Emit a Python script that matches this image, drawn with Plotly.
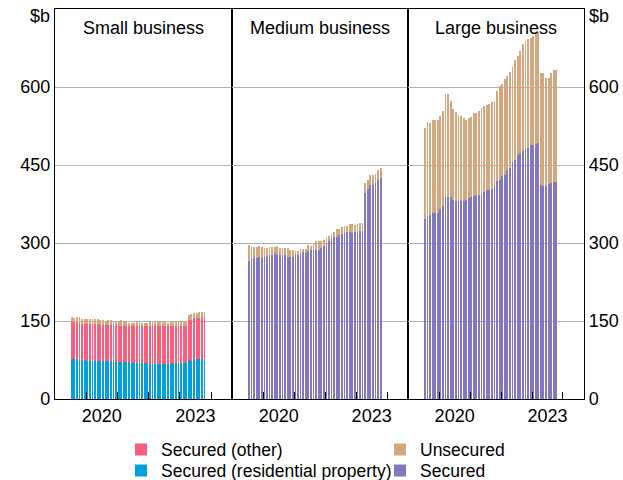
import pandas as pd
import plotly.graph_objects as go

# ---- data ($b), monthly Jul 2019 - Oct 2023 ----
months = pd.date_range("2019-07-01", periods=52, freq="MS") + pd.Timedelta(days=14)

small_res = [77,77,77,75,75,75,74,74,74,74,74,74,73,73,73,73,73,72,72,72,72,71,71,70,69,69,
             69,69,69,68,68,68,68,68,68,68,68,68,68,69,69,69,69,69,69,75,74,76,76,76,76,76]
small_other = [72,71,72,71,70,70,71,70,70,70,70,69,70,70,69,69,69,69,69,69,69,69,69,70,71,71,
               71,71,71,72,72,72,72,72,72,72,72,72,72,71,71,72,72,72,72,76,78,79,79,79,80,82]
small_unsec = [9,8,9,11,9,9,9,9,9,9,9,9,9,7,10,9,7,8,9,11,8,9,7,7,7,9,
               8,7,7,7,9,9,9,9,10,9,9,7,9,9,10,8,9,8,8,11,11,11,11,12,11,10]

med_sec = [266,270,271,272,274,272,274,274,277,277,281,277,276,276,276,274,274,274,276,276,
           278,282,281,285,287,287,287,287,290,294,299,303,308,312,312,315,317,319,321,321,
           319,321,322,324,324,397,403,412,412,415,422,425]
med_unsec = [31,22,22,21,21,20,16,16,15,16,12,17,15,14,14,16,13,12,9,9,
             10,6,7,12,8,12,16,16,13,11,11,11,10,10,15,12,14,14,12,16,
             18,14,15,14,14,18,19,18,18,18,19,19]

large_sec = [347,350,353,358,358,358,366,372,388,389,389,383,380,381,381,381,383,387,388,391,
             393,392,394,399,401,401,403,411,419,421,428,430,441,444,455,460,470,473,476,480,
             483,489,489,491,492,411,410,410,413,416,418,418]
large_unsec = [175,182,177,178,179,179,179,181,199,198,185,175,171,165,164,159,154,153,154,159,
               157,162,166,164,164,167,169,163,173,181,178,185,181,185,183,192,190,197,207,208,
               210,205,210,210,213,215,216,207,204,211,214,214]

panel_titles = ["Small business", "Medium business", "Large business"]
y_ticks = [0, 150, 300, 450, 600]
x_label_vals = ["2020-07-01", "2023-07-01"]
x_label_text = ["2020", "2023"]
year_ticks = ["2020-01-01", "2021-01-01", "2022-01-01", "2023-01-01", "2024-01-01"]

C_OTHER = "rgba(250,94,126,0.999)"
C_RES = "rgba(0,160,223,0.999)"
C_UNSEC = "rgba(212,167,126,0.999)"
C_SEC = "rgba(130,120,194,0.999)"
FONT = "Arial, Liberation Sans, sans-serif"

W, H = 623, 480
ML, MR, MT, MB = 55, 39, 9, 81
PW = W - ML - MR
PH = H - MT - MB

fig = go.Figure()

def bar(y, name, color, xa, ya, show, legend):
    fig.add_trace(go.Bar(x=months, y=y, name=name,
                         marker=dict(color=color, line=dict(width=0)),
                         xaxis=xa, yaxis=ya, showlegend=show, legend=legend,
                         hoverinfo="skip"))

bar(small_res, "Secured (residential property)", C_RES, "x", "y", True, "legend3")
bar(small_other, "Secured (other)", C_OTHER, "x", "y", True, "legend")
bar(small_unsec, "Unsecured", C_UNSEC, "x", "y", True, "legend2")
bar(med_sec, "Secured", C_SEC, "x2", "y2", True, "legend4")
bar(med_unsec, "Unsecured", C_UNSEC, "x2", "y2", False, "legend2")
bar(large_sec, "Secured", C_SEC, "x3", "y3", False, "legend4")
bar(large_unsec, "Unsecured", C_UNSEC, "x3", "y3", False, "legend2")

b1, b2 = (232.3 - ML) / PW, (408.3 - ML) / PW
domains = [[0, b1], [b1, b2], [b2, 1]]
xrange = ["2019-01-01", "2024-09-05"]

axis_common = dict(showline=True, linecolor="black", linewidth=1.3, mirror=True)

for i in range(3):
    sfx = "" if i == 0 else str(i + 1)
    fig.layout["xaxis" + sfx] = dict(
        domain=domains[i], range=xrange, type="date", anchor="y" + sfx,
        tickmode="array", tickvals=x_label_vals, ticktext=x_label_text, ticks="",
        showgrid=False, zeroline=False, automargin=False,
        tickfont=dict(family=FONT, size=18, color="black"),
        minor=dict(tickmode="array", tickvals=year_ticks, ticks="inside", ticklen=7,
                   tickcolor="black", tickwidth=1.3, showgrid=False),
        **axis_common)
    yd = dict(range=[0, 750], anchor="x" + sfx, tickmode="array", tickvals=y_ticks,
              showgrid=True, gridcolor="#B3B3B3", gridwidth=1, zeroline=False, ticks="",
              automargin=False,
              tickfont=dict(family=FONT, size=18, color="black"), **axis_common)
    if i == 0:
        yd.update(side="left", showticklabels=True)
    elif i == 1:
        yd.update(showticklabels=False, matches="y")
    else:
        yd.update(side="right", showticklabels=True, matches="y")
    fig.layout["yaxis" + sfx] = yd

annotations = []
for i, t in enumerate(panel_titles):
    annotations.append(dict(text=t, x=(domains[i][0] + domains[i][1]) / 2, y=(399.3 - 28) / PH,
                            xref="paper", yref="paper", xanchor="center", yanchor="middle",
                            showarrow=False, font=dict(family=FONT, size=18, color="black")))
annotations.append(dict(text="$b", x=(52 - ML) / PW, y=(399.3 - 16) / PH, xref="paper", yref="paper",
                        xanchor="right", yanchor="middle", showarrow=False,
                        font=dict(family=FONT, size=18, color="black")))
annotations.append(dict(text="$b", x=(587 - ML) / PW, y=(399.3 - 16) / PH, xref="paper", yref="paper",
                        xanchor="left", yanchor="middle", showarrow=False,
                        font=dict(family=FONT, size=18, color="black")))

leg_common = dict(orientation="v", yanchor="top", xanchor="left", bgcolor="rgba(0,0,0,0)",
                  font=dict(family=FONT, size=17.5, color="black"), itemwidth=30,
                  tracegroupgap=0)
x_col1 = (121 - ML) / PW
x_col2 = (380 - ML) / PW
y_row1 = (399.3 - 432) / PH
y_row2 = (399.3 - 453) / PH

fig.update_layout(
    width=W, height=H, margin=dict(l=ML, r=MR, t=MT, b=MB, autoexpand=False),
    paper_bgcolor="white", plot_bgcolor="white",
    barmode="stack", bargap=0.22,
    annotations=annotations,
    legend=dict(x=x_col1, y=y_row1, **leg_common),
    legend2=dict(x=x_col2, y=y_row1, **leg_common),
    legend3=dict(x=x_col1, y=y_row2, **leg_common),
    legend4=dict(x=x_col2, y=y_row2, **leg_common),
    font=dict(family=FONT, size=18, color="black"),
)

fig.write_html("out.html", config={"displayModeBar": False},
               post_script="document.body.style.margin='0px';")
